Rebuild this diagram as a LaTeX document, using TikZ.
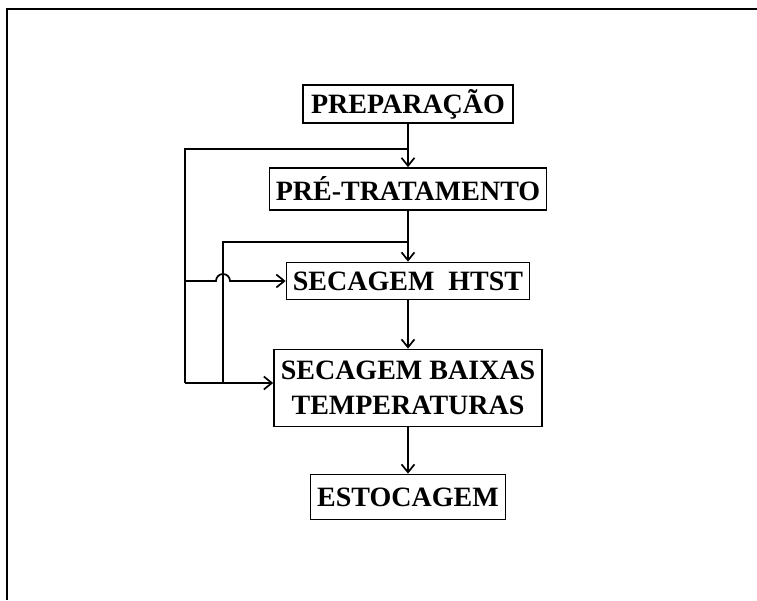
\documentclass[tikz,border=0pt]{standalone}
\usepackage{fontspec}
\setmainfont{Liberation Serif}
\usetikzlibrary{arrows.meta}
\begin{document}
\begin{tikzpicture}[
            x=1pt, y=-1pt,
            etapa/.style={
                rectangle,
                draw,
                line width=1.7pt,
                inner sep=0pt,
                align=center,
                font=\fontsize{28}{35}\selectfont\bfseries
            },
            linha/.style={
                line width=1.7pt
            },
            fluxo/.style={
                linha,
                -{Straight Barb[length=8pt,width=13pt,line width=1.7pt]}
            }
        ]

            \useasboundingbox (0,0) rectangle (757,600);
            \draw[linha] (7,600) -- (7,9) -- (757,9);

            \node[etapa, minimum width=210pt, minimum height=38pt] (prep) at (408,104) {PREPARAÇÃO};
            \node[etapa, minimum width=277pt, minimum height=42pt] (pretrat) at (408,189) {PRÉ-TRATAMENTO};
            \node[etapa, minimum width=243pt, minimum height=37pt] (htst) at (408,281) {SECAGEM\ \ HTST};
            \node[etapa, minimum width=268pt, minimum height=77pt] (baixas) at (408,388) {SECAGEM BAIXAS\\TEMPERATURAS};
            \node[etapa, minimum width=195pt, minimum height=45pt] (estoc) at (408,497) {ESTOCAGEM};

            \coordinate (j1) at (408,149);
            \coordinate (j2) at (408,242);
            \coordinate (c1) at (185,149);
            \coordinate (c1m) at (185,281);
            \coordinate (c1b) at (185,383);
            \coordinate (c2) at (223,242);
            \coordinate (c2b) at (223,383);

            \draw[fluxo] (prep) -- (pretrat);
            \draw[fluxo] (pretrat) -- (htst);
            \draw[fluxo] (htst) -- (baixas);
            \draw[fluxo] (baixas) -- (estoc);

            % retornos pela esquerda
            \draw[linha] (j1) -- (c1) -- (c1b);
            \draw[linha] (j2) -- (c2) -- (c2b);
            \draw[fluxo] (c1b) -- (c1b -| baixas.west);
            \draw[fluxo] (c1m) -- (216,281)
                arc[start angle=180, end angle=360, radius=7] -- (c1m -| htst.west);

        \end{tikzpicture}
\end{document}
